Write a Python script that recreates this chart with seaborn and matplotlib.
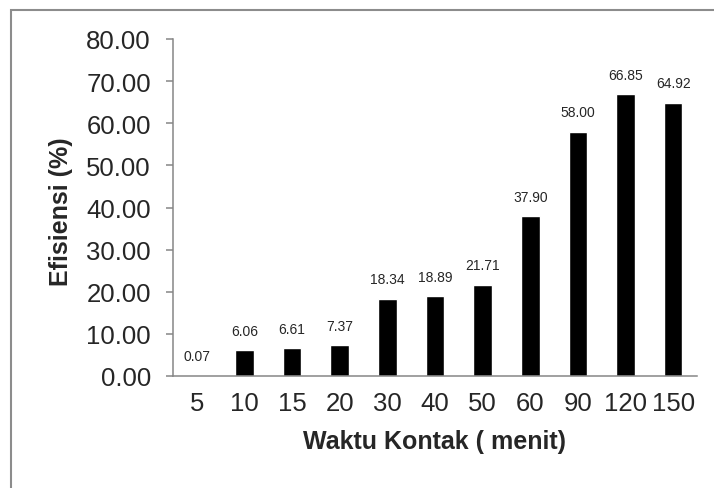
import numpy as np
import pandas as pd
import seaborn as sns
import matplotlib.pyplot as plt
from matplotlib.patches import Rectangle

# data
waktu = ["5", "10", "15", "20", "30", "40", "50", "60", "90", "120", "150"]
efisiensi = [0.07, 6.06, 6.61, 7.37, 18.34, 18.89, 21.71, 37.90, 58.00, 66.85, 64.92]
y_ticks = np.arange(0, 81, 10)

df = pd.DataFrame({"waktu": waktu, "efisiensi": efisiensi})

sns.set_style("white")
plt.rcParams['font.family'] = ['Liberation Sans', 'DejaVu Sans']

W, H = 714, 489
fig = plt.figure(figsize=(7.14, 4.89), dpi=100)
ax = fig.add_axes([173 / W, 1 - 377 / H, (697 - 173) / W, (377 - 40) / H])

sns.barplot(data=df, x="waktu", y="efisiensi", color="black", width=0.39,
            saturation=1, ax=ax)

# value labels above bars
for i, v in enumerate(efisiensi):
    ax.annotate(f"{v:.2f}", (i, v), xytext=(0, 14), textcoords="offset points",
                ha="center", va="center", fontsize=10)

ax.set_ylim(0, 80)
ax.set_xlim(-0.5, len(waktu) - 0.5)
ax.set_yticks(y_ticks)
ax.set_yticklabels([f"{t:.2f}" for t in y_ticks], fontsize=18.5)
ax.tick_params(axis="x", labelsize=18.5, length=0, pad=11)
ax.set_xticks(np.arange(-0.5, len(waktu)), minor=True)
ax.tick_params(axis="x", which="minor", length=5, color="#868686", width=1.1)
ax.tick_params(axis="y", length=5, color="#868686", width=1.1, left=True, pad=11)

for s in ["top", "right"]:
    ax.spines[s].set_visible(False)
for s in ["left", "bottom"]:
    ax.spines[s].set_color("#868686")
    ax.spines[s].set_linewidth(1.1)

ax.set_xlabel("")
ax.set_ylabel("")
fig.text(435 / W, 1 - 442 / H, "Waktu Kontak ( menit)", ha="center", va="center",
         fontsize=18, fontweight="bold")
fig.text(61 / W, 1 - 212 / H, "Efisiensi (%)", ha="center", va="center",
         rotation=90, fontsize=18, fontweight="bold")

# outer chart border
fig.patches.append(Rectangle((11 / W, -0.1), 1.0, 1 - 11 / H + 0.1,
                             transform=fig.transFigure, fill=False,
                             edgecolor="#8c8c8c", linewidth=1.5))

fig.savefig("out.png", dpi=100)
